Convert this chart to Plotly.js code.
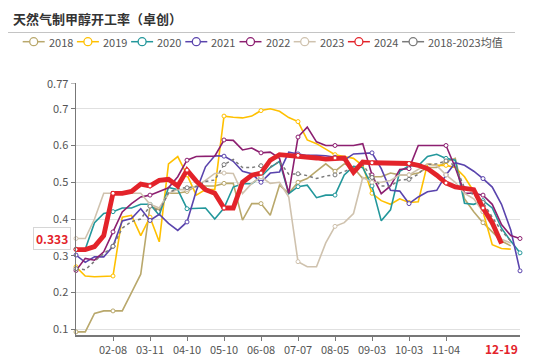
<!DOCTYPE html>
<html>
<head>
<meta charset="utf-8">
<script src="https://cdn.plot.ly/plotly-3.0.1.min.js"></script>
<style>html,body{margin:0;padding:0;background:#fff;}#chart{width:550px;height:356px;}</style>
</head>
<body>
<div id="chart"></div>
<script>
// ---- data ----
const dates = ['01-11','01-18','01-25','02-01','02-08','02-22','02-29','03-04','03-11','03-18','03-25','04-01',
 '04-10','04-17','04-24','05-01','05-10','05-17','05-24','05-31','06-08','06-14','06-21','06-28',
 '07-07','07-12','07-19','07-26','08-05','08-09','08-16','08-23','09-03','09-06','09-13','09-20',
 '10-03','10-11','10-18','10-25','11-04','11-08','11-15','11-22','11-29','12-06','12-19','12-26','12-31'];
const tickDates = ['02-08','03-11','04-10','05-10','06-08','07-07','08-05','09-03','10-03','11-04'];
const yTicks = [0.1,0.2,0.3,0.4,0.5,0.6,0.7];

const y2018 = [0.093,0.093,0.143,0.15,0.15,0.15,0.2,0.25,0.435,0.425,0.47,0.47,0.475,0.49,0.49,0.49,0.497,0.497,0.397,0.442,0.442,0.41,0.492,0.47,0.50,0.51,0.53,0.55,0.53,0.55,0.54,0.51,0.515,0.515,0.525,0.52,0.52,0.525,0.54,0.54,0.555,0.565,0.455,0.42,0.39,0.365,0.34,0.327];
const y2019 = [0.27,0.245,0.243,0.243,0.245,0.405,0.41,0.355,0.405,0.338,0.55,0.57,0.52,0.465,0.48,0.48,0.68,0.677,0.675,0.68,0.695,0.70,0.693,0.676,0.665,0.615,0.605,0.59,0.575,0.57,0.565,0.545,0.47,0.45,0.44,0.455,0.445,0.447,0.55,0.546,0.546,0.54,0.515,0.475,0.42,0.33,0.32,0.318];
const y2020 = [0.318,0.318,0.39,0.415,0.42,0.43,0.43,0.44,0.44,0.41,0.486,0.48,0.428,0.43,0.43,0.40,0.43,0.487,0.496,0.496,0.515,0.54,0.557,0.469,0.488,0.492,0.458,0.465,0.465,0.52,0.543,0.54,0.49,0.395,0.425,0.53,0.545,0.545,0.57,0.576,0.565,0.56,0.443,0.44,0.45,0.43,0.375,0.34,0.308];
const y2021 = [0.302,0.282,0.297,0.297,0.326,0.395,0.401,0.428,0.396,0.413,0.388,0.369,0.392,0.476,0.542,0.572,0.571,0.557,0.53,0.523,0.50,0.525,0.528,0.582,0.577,0.573,0.573,0.572,0.568,0.56,0.577,0.578,0.58,0.537,0.478,0.476,0.442,0.46,0.474,0.478,0.52,0.553,0.546,0.53,0.51,0.487,0.44,0.37,0.259];
const y2022 = [0.26,0.293,0.288,0.311,0.365,0.419,0.442,0.46,0.465,0.474,0.485,0.515,0.56,0.57,0.571,0.571,0.615,0.614,0.588,0.593,0.58,0.582,0.565,0.47,0.623,0.65,0.61,0.60,0.60,0.60,0.60,0.605,0.52,0.469,0.49,0.535,0.537,0.60,0.60,0.60,0.60,0.54,0.47,0.47,0.465,0.44,0.385,0.355,0.347];
const y2023 = [0.347,0.347,0.40,0.47,0.47,0.47,0.47,0.47,0.44,0.43,0.47,0.48,0.48,0.49,0.505,0.524,0.525,0.524,0.469,0.497,0.515,0.497,0.50,0.46,0.284,0.27,0.27,0.335,0.38,0.39,0.415,0.513,0.50,0.50,0.505,0.52,0.52,0.535,0.55,0.545,0.52,0.50,0.47,0.455,0.42,0.38,0.345,0.335];
const y2024 = [0.317,0.317,0.325,0.355,0.47,0.47,0.475,0.495,0.49,0.505,0.508,0.49,0.533,0.503,0.48,0.47,0.43,0.43,0.50,0.519,0.525,0.56,0.575,0.573,0.573,0.571,0.566,0.563,0.566,0.566,0.527,0.555,0.553,0.553,0.553,0.553,0.551,0.546,0.537,0.519,0.498,0.487,0.483,0.48,0.43,0.39,0.333];
const yMean = [0.265,0.262,0.285,0.305,0.326,0.375,0.393,0.40,0.435,0.42,0.472,0.483,0.485,0.488,0.502,0.506,0.548,0.562,0.54,0.54,0.545,0.542,0.556,0.522,0.523,0.518,0.51,0.517,0.52,0.53,0.54,0.548,0.513,0.49,0.49,0.506,0.508,0.522,0.548,0.55,0.558,0.545,0.485,0.465,0.445,0.405,0.368,0.34];

const seriesNames = ['2018','2019','2020','2021','2022','2023','2024','2018-2023均值'];
const seriesData = [y2018,y2019,y2020,y2021,y2022,y2023,y2024,yMean];
const seriesColors = ['#b9a86c','#ffc000','#22979b','#5a44ad','#8c1f70','#cfc2ae','#e3232a','#7a7a7a'];
const seriesWidths = [1.6,1.6,1.6,1.6,1.6,1.6,4.8,1.5];
const seriesDash = ['solid','solid','solid','solid','solid','solid','solid','dot'];

// ---- geometry helpers (plot area in pixels) ----
const L = 76, R = 520, T = 83, B = 335;
const px = X => (X - L) / (R - L);
const py = Y => (B - Y) / (B - T);

// drawing order: others first, mean, then 2024 on top
const order = [0,1,2,3,4,5,7,6];
const traces = order.map(k => {
  const vals = seriesData[k];
  return {
    type: 'scatter', mode: 'lines+markers',
    x: dates.slice(0, vals.length), y: vals,
    name: seriesNames[k],
    line: {color: seriesColors[k], width: seriesWidths[k], dash: seriesDash[k]},
    marker: {symbol: 'circle', size: 4, color: '#ffffff',
             line: {color: seriesColors[k], width: 1},
             opacity: vals.map((v, i) => i % 4 === 0 ? 1 : 0)},
    cliponaxis: false, showlegend: false, hoverinfo: 'skip'
  };
});

const shapes = [];
const annotations = [];

// separator under title
shapes.push({type:'line', xref:'paper', yref:'paper', x0:px(8), x1:px(515), y0:py(32.5), y1:py(32.5),
  line:{color:'#c4c4c4', width:1}});

// custom legend
const legY = 41.7;
seriesNames.forEach((nm, k) => {
  const x0 = 22.7 + 54.2 * k;
  shapes.push({type:'line', xref:'paper', yref:'paper', x0:px(x0), x1:px(x0+22), y0:py(legY), y1:py(legY),
    line:{color:seriesColors[k], width:1.5}});
  shapes.push({type:'circle', xref:'paper', yref:'paper', xsizemode:'pixel', ysizemode:'pixel',
    xanchor:px(x0+11), yanchor:py(legY), x0:-4, x1:4, y0:-4, y1:4,
    fillcolor:'#ffffff', line:{color:seriesColors[k], width:1.3}});
  annotations.push({xref:'paper', yref:'paper', x:px(x0+24), y:py(legY), xanchor:'left', yanchor:'middle',
    text:nm, showarrow:false, font:{size:11, color:'#555'}});
});

// 0.77 top tick
shapes.push({type:'line', xref:'paper', yref:'y', x0:px(71), x1:px(76), y0:0.77, y1:0.77,
  line:{color:'#777', width:1}});
annotations.push({xref:'paper', yref:'y', x:0, y:0.77, xanchor:'right', yanchor:'middle', xshift:-6,
  text:'0.77', showarrow:false, font:{size:11, color:'#555'}});

// last-value labels
const lastIdx = y2024.length - 1;
annotations.push({xref:'paper', yref:'y', x:0, y:y2024[lastIdx], xanchor:'right', yanchor:'middle',
  xshift:-5, yshift:5, text:'<b>' + y2024[lastIdx].toFixed(3) + '</b>', showarrow:false,
  font:{size:12, color:'#e3232a'}, bgcolor:'#ffffff', bordercolor:'#d6d6d6', borderwidth:1, borderpad:2});
annotations.push({xref:'x', yref:'paper', x:dates[lastIdx], y:0, xanchor:'center', yanchor:'top', yshift:-3,
  text:'<b>' + dates[lastIdx] + '</b>', showarrow:false, font:{size:12, color:'#e3232a'}});

const layout = {
  width: 550, height: 356,
  margin: {l: L, r: 550 - R, t: T, b: 356 - B, pad: 0},
  paper_bgcolor: '#ffffff', plot_bgcolor: '#ffffff',
  font: {family: '"Noto Sans CJK SC", "Noto Sans", sans-serif', size: 11, color: '#555'},
  title: {text: '<b>天然气制甲醇开工率（卓创）</b>', x: 13/550, xanchor: 'left', xref: 'container',
          y: 1 - 19/356, yanchor: 'middle', yref: 'container',
          font: {family: '"Noto Sans CJK SC", sans-serif', size: 13, color: '#333'}},
  xaxis: {type: 'category', categoryorder: 'array', categoryarray: dates, range: [0, dates.length - 1],
          tickmode: 'array', tickvals: tickDates, ticktext: tickDates,
          ticks: 'outside', ticklen: 4, tickcolor: '#777', showline: true, linecolor: '#777', linewidth: 1.5,
          showgrid: false, zeroline: false, tickfont: {size: 11, color: '#555'}, fixedrange: true},
  yaxis: {range: [0.0845, 0.77], tickmode: 'array', tickvals: yTicks, ticktext: yTicks.map(String),
          ticks: 'outside', ticklen: 4, tickcolor: '#777', showline: true, linecolor: '#777', linewidth: 1.5,
          showgrid: true, gridcolor: '#e0e0e0', gridwidth: 1, zeroline: false,
          tickfont: {size: 11, color: '#555'}, fixedrange: true},
  shapes: shapes,
  annotations: annotations,
  showlegend: false
};

Plotly.newPlot('chart', traces, layout, {staticPlot: true, displayModeBar: false});
</script>
</body>
</html>
